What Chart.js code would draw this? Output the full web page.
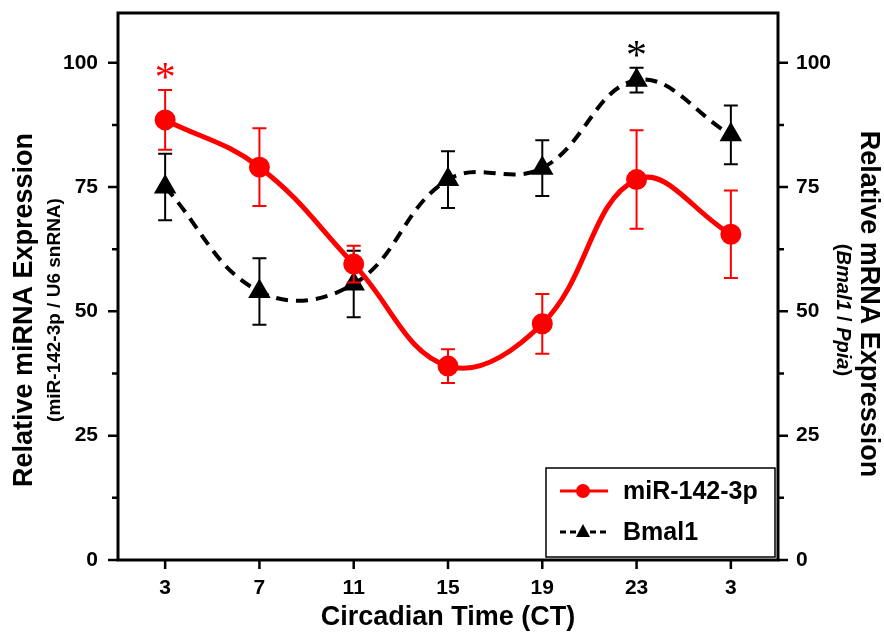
<!DOCTYPE html>
<html>
<head>
<meta charset="utf-8">
<script src="https://cdn.jsdelivr.net/npm/chart.js@4.4.1/dist/chart.umd.min.js"></script>
<style>
  html, body { margin: 0; padding: 0; background: #fff; }
  #wrap { width: 884px; height: 636px; position: relative; }
</style>
</head>
<body>
<div id="wrap"><canvas id="circadianChart"></canvas></div>
<script>
const timeLabels = ['3', '7', '11', '15', '19', '23', '3'];
const mirMeans = [88.5, 79, 59.5, 39, 47.5, 76.5, 65.5];
const mirErrors = [6, 7.8, 3.7, 3.4, 6, 9.9, 8.8];
const bmalMeans = [75, 54, 55.5, 76.5, 78.8, 96.5, 85.5];
const bmalErrors = [6.7, 6.7, 6.7, 5.7, 5.6, 2.5, 5.9];
const yMajorTicks = [0, 25, 50, 75, 100];
const yMinorTicks = [12.5, 37.5, 62.5, 87.5];
const starMarks = [
    { dataset: 0, index: 0, color: '#ff0000' },
    { dataset: 1, index: 5, color: '#000000' }
];

const FONT = "'Liberation Sans', Arial, sans-serif";
const canvas = document.getElementById('circadianChart');

function drawRotated(ctx, text, x, y, angle, font) {
    ctx.save();
    ctx.translate(x, y);
    ctx.rotate(angle);
    ctx.font = font;
    ctx.textAlign = 'center';
    ctx.textBaseline = 'middle';
    ctx.fillText(text, 0, 0);
    ctx.restore();
}

function drawMixedRotated(ctx, parts, x, y, angle, size) {
    ctx.save();
    ctx.translate(x, y);
    ctx.rotate(angle);
    ctx.textBaseline = 'middle';
    ctx.textAlign = 'left';
    let total = 0;
    parts.forEach(p => {
        ctx.font = (p.italic ? 'italic ' : '') + 'bold ' + size + 'px ' + FONT;
        total += ctx.measureText(p.text).width;
    });
    let cx = -total / 2;
    parts.forEach(p => {
        ctx.font = (p.italic ? 'italic ' : '') + 'bold ' + size + 'px ' + FONT;
        ctx.fillText(p.text, cx, 0);
        cx += ctx.measureText(p.text).width;
    });
    ctx.restore();
}

const figureDecor = {
    id: 'figureDecor',
    beforeDatasetDraw(chart, args) {
        const ds = chart.data.datasets[args.index];
        const yScale = chart.scales[ds.yAxisID];
        const ctx = chart.ctx;
        ctx.save();
        ctx.strokeStyle = ds.borderColor;
        ctx.lineWidth = 2;
        ds.errors.forEach((err, i) => {
            const x = args.meta.data[i].x;
            const top = yScale.getPixelForValue(ds.data[i] + err);
            const bottom = yScale.getPixelForValue(ds.data[i] - err);
            ctx.beginPath();
            ctx.moveTo(x, top); ctx.lineTo(x, bottom);
            ctx.moveTo(x - 7, top); ctx.lineTo(x + 7, top);
            ctx.moveTo(x - 7, bottom); ctx.lineTo(x + 7, bottom);
            ctx.stroke();
        });
        ctx.restore();
    },
    afterDraw(chart) {
        const ctx = chart.ctx;
        const area = chart.chartArea;
        const xScale = chart.scales.x;
        const yLeft = chart.scales.y;
        const yRight = chart.scales.y2;

        ctx.save();
        // frame
        ctx.strokeStyle = '#000';
        ctx.lineWidth = 3;
        ctx.strokeRect(area.left, area.top, area.right - area.left, area.bottom - area.top);

        // tick marks
        ctx.lineWidth = 2.5;
        ctx.beginPath();
        yMajorTicks.concat(yMinorTicks).forEach(v => {
            const len = yMajorTicks.includes(v) ? 10 : 6;
            const py = yLeft.getPixelForValue(v);
            ctx.moveTo(area.left - len, py); ctx.lineTo(area.left, py);
            const pr = yRight.getPixelForValue(v);
            ctx.moveTo(area.right, pr); ctx.lineTo(area.right + len, pr);
        });
        timeLabels.forEach((t, i) => {
            const px = xScale.getPixelForValue(i);
            ctx.moveTo(px, area.bottom); ctx.lineTo(px, area.bottom + 9);
        });
        ctx.stroke();

        // significance asterisks
        starMarks.forEach(s => {
            const ds = chart.data.datasets[s.dataset];
            const yScale = chart.scales[ds.yAxisID];
            const px = chart.getDatasetMeta(s.dataset).data[s.index].x;
            const topErr = yScale.getPixelForValue(ds.data[s.index] + ds.errors[s.index]);
            ctx.font = "42px 'Liberation Serif', serif";
            ctx.fillStyle = s.color;
            ctx.textAlign = 'center';
            ctx.textBaseline = 'alphabetic';
            const m = ctx.measureText('*');
            const mid = (m.actualBoundingBoxAscent - m.actualBoundingBoxDescent) / 2;
            ctx.fillText('*', px, topErr - 19 + mid);
        });

        // legend box
        const lg = { left: 546, top: 468, width: 229, height: 89 };
        ctx.fillStyle = '#fff';
        ctx.fillRect(lg.left, lg.top, lg.width, lg.height);
        ctx.lineWidth = 1.5;
        ctx.strokeStyle = '#000';
        ctx.strokeRect(lg.left, lg.top, lg.width, lg.height);

        const rows = [491, 532];
        chart.data.datasets.forEach((ds, i) => {
            const ry = rows[i];
            ctx.save();
            ctx.strokeStyle = ds.borderColor;
            ctx.lineWidth = 3;
            ctx.setLineDash(i === 1 ? [6, 4] : []);
            ctx.beginPath();
            ctx.moveTo(560, ry); ctx.lineTo(608, ry);
            ctx.stroke();
            ctx.restore();
            ctx.fillStyle = ds.pointBackgroundColor;
            ctx.beginPath();
            if (i === 0) {
                ctx.arc(583, ry, 7, 0, Math.PI * 2);
            } else {
                ctx.moveTo(583, ry - 8);
                ctx.lineTo(590, ry + 5);
                ctx.lineTo(576, ry + 5);
                ctx.closePath();
            }
            ctx.fill();
            ctx.fillStyle = '#000';
            ctx.font = 'bold 25px ' + FONT;
            ctx.textAlign = 'left';
            ctx.textBaseline = 'middle';
            ctx.fillText(ds.label, 623, ry + 1);
        });

        // axis titles
        ctx.fillStyle = '#000';
        drawRotated(ctx, 'Relative miRNA Expression', 25, 310, -Math.PI / 2, 'bold 27px ' + FONT);
        drawRotated(ctx, '(miR-142-3p / U6 snRNA)', 55, 310, -Math.PI / 2, 'bold 19px ' + FONT);
        drawRotated(ctx, 'Relative mRNA Expression', 868, 304, Math.PI / 2, 'bold 27px ' + FONT);
        drawMixedRotated(ctx, [
            { text: '(' }, { text: 'Bmal1', italic: true }, { text: ' / ' },
            { text: 'Ppia', italic: true }, { text: ')' }
        ], 843, 310, Math.PI / 2, 20);
        ctx.font = 'bold 27px ' + FONT;
        ctx.textAlign = 'center';
        ctx.textBaseline = 'middle';
        ctx.fillText('Circadian Time (CT)', (area.left + area.right) / 2, 618);
        ctx.restore();
    }
};

const tickFont = { family: FONT, size: 21, weight: 'bold' };

function fixVertical(width) {
    return scale => {
        scale.width = width;
        scale.paddingTop = 0;
        scale.paddingBottom = 0;
    };
}

new Chart(canvas, {
    type: 'line',
    data: {
        labels: timeLabels,
        datasets: [
            {
                label: 'miR-142-3p',
                data: mirMeans,
                errors: mirErrors,
                yAxisID: 'y',
                borderColor: '#ff0000',
                backgroundColor: '#ff0000',
                pointBackgroundColor: '#ff0000',
                pointBorderColor: '#ff0000',
                borderWidth: 5,
                pointStyle: 'circle',
                pointRadius: 8,
                tension: 0.4,
                fill: false
            },
            {
                label: 'Bmal1',
                data: bmalMeans,
                errors: bmalErrors,
                yAxisID: 'y2',
                borderColor: '#000000',
                backgroundColor: '#000000',
                pointBackgroundColor: '#000000',
                pointBorderColor: '#000000',
                borderWidth: 4,
                borderDash: [12, 8],
                pointStyle: 'triangle',
                pointRadius: 9,
                tension: 0.4,
                fill: false
            }
        ]
    },
    options: {
        responsive: true,
        maintainAspectRatio: false,
        animation: false,
        layout: { padding: { top: 11, left: 0, right: 0, bottom: 0 } },
        plugins: {
            legend: { display: false },
            tooltip: { enabled: false }
        },
        scales: {
            x: {
                type: 'category',
                offset: true,
                grid: { display: false },
                border: { display: false },
                ticks: { font: tickFont, color: '#000', padding: 8, maxRotation: 0 },
                afterFit(scale) {
                    scale.height = 76;
                    scale.paddingLeft = 0;
                    scale.paddingRight = 0;
                }
            },
            y: {
                position: 'left',
                min: 0,
                max: 110,
                grid: { display: false },
                border: { display: false },
                afterBuildTicks(scale) { scale.ticks = yMajorTicks.map(v => ({ value: v })); },
                ticks: { font: tickFont, color: '#000', padding: 12 },
                afterFit: fixVertical(118)
            },
            y2: {
                position: 'right',
                min: 0,
                max: 110,
                grid: { display: false },
                border: { display: false },
                afterBuildTicks(scale) { scale.ticks = yMajorTicks.map(v => ({ value: v })); },
                ticks: { font: tickFont, color: '#000', padding: 10 },
                afterFit: fixVertical(106)
            }
        }
    },
    plugins: [figureDecor]
});
</script>
</body>
</html>
